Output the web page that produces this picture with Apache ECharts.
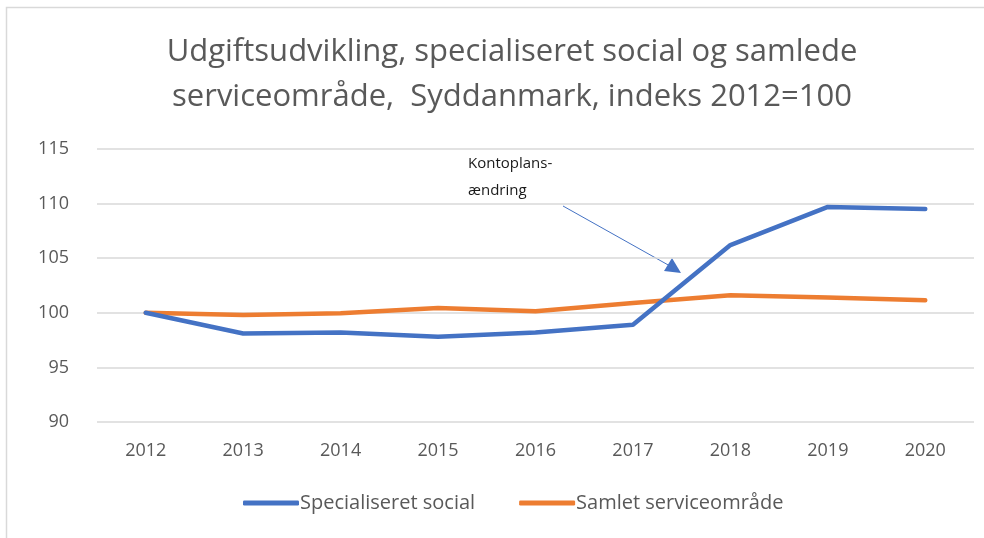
<!DOCTYPE html>
<html>
<head>
<meta charset="utf-8">
<script src="https://cdn.jsdelivr.net/npm/echarts@6/dist/echarts.min.js"></script>
<style>
  html, body { margin: 0; padding: 0; background: #fff; }
  #chart { width: 984px; height: 538px; }
</style>
</head>
<body>
<div id="chart"></div>
<script>
// år og indeksværdier
const years = ['2012', '2013', '2014', '2015', '2016', '2017', '2018', '2019', '2020']
const specialiseretSocial = [100, 98.1, 98.2, 97.8, 98.2, 98.9, 106.2, 109.7, 109.5]
const samletService = [100, 99.8, 99.95, 100.45, 100.15, 100.9, 101.6, 101.4, 101.15]

const textColor = '#595959'
const fontFamily = 'Open Sans, Noto Sans, sans-serif'

const chart = echarts.init(document.getElementById('chart'))

const option = {
  backgroundColor: '#fff',
  animation: false,
  title: {
    text: 'Udgiftsudvikling, specialiseret social og samlede\nserviceområde,  Syddanmark, indeks 2012=100',
    left: 507,
    textAlign: 'center',
    top: 25,
    textStyle: {
      color: textColor,
      fontSize: 31,
      fontWeight: 'normal',
      fontFamily: fontFamily,
      lineHeight: 45
    }
  },
  grid: {
    left: 97,
    right: 10,
    top: 149,
    bottom: 116,
    containLabel: false
  },
  legend: {
    bottom: 20,
    left: 238,
    itemWidth: 56,
    itemHeight: 5,
    itemGap: 44,
    icon: 'roundRect',
    textStyle: { color: textColor, fontSize: 20, fontFamily: fontFamily, padding: [0, 0, 0, -4] },
    data: ['Specialiseret social', 'Samlet serviceområde']
  },
  xAxis: {
    type: 'category',
    data: years,
    boundaryGap: true,
    axisLine: { show: false },
    axisTick: { show: false },
    axisLabel: { color: textColor, fontSize: 18, fontFamily: fontFamily, margin: 20 }
  },
  yAxis: {
    type: 'value',
    min: 90,
    max: 115,
    interval: 5,
    axisLine: { show: false },
    axisTick: { show: false },
    axisLabel: { color: textColor, fontSize: 18, fontFamily: fontFamily, margin: 28 },
    splitLine: { lineStyle: { color: '#d9d9d9', width: 1.5 } }
  },
  graphic: [
    // ramme
    {
      type: 'polyline',
      shape: { points: [[6.5, 538], [6.5, 7.5], [984, 7.5]] },
      style: { stroke: '#d9d9d9', lineWidth: 1.5, fill: null },
      silent: true
    },
    // annotation
    {
      type: 'text',
      left: 468,
      top: 150,
      style: {
        text: 'Kontoplans-\nændring',
        fill: '#1a1a1a',
        font: '15px ' + fontFamily,
        lineHeight: 27
      }
    },
    {
      type: 'line',
      shape: { x1: 563, y1: 206, x2: 670, y2: 266 },
      style: { stroke: '#4472c4', lineWidth: 1 }
    },
    {
      type: 'polygon',
      shape: { points: [[681, 273], [664, 271], [672, 258]] },
      style: { fill: '#4472c4' }
    }
  ],
  series: [
    {
      name: 'Specialiseret social',
      type: 'line',
      data: specialiseretSocial,
      symbol: 'none',
      lineStyle: { color: '#4472c4', width: 4.5, cap: 'round', join: 'round' },
      itemStyle: { color: '#4472c4' },
      z: 3
    },
    {
      name: 'Samlet serviceområde',
      type: 'line',
      data: samletService,
      symbol: 'none',
      lineStyle: { color: '#ed7d31', width: 4.5, cap: 'round', join: 'round' },
      itemStyle: { color: '#ed7d31' },
      z: 2
    }
  ]
}

chart.setOption(option)
</script>
</body>
</html>
